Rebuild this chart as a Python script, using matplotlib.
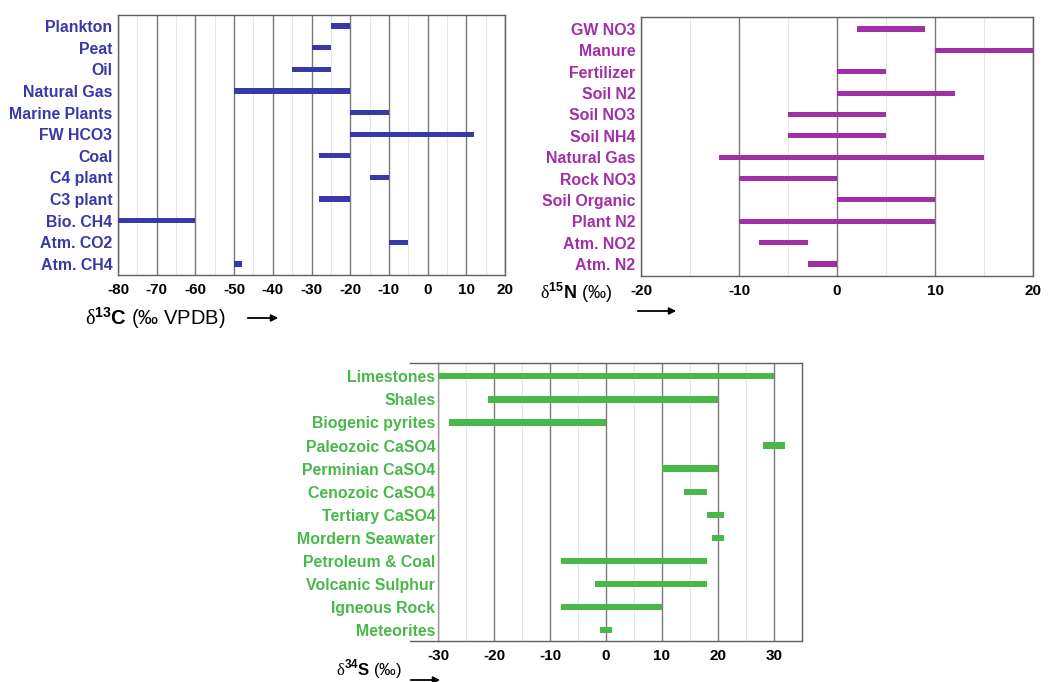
import matplotlib
matplotlib.use("Agg")
import matplotlib.pyplot as plt
from matplotlib.ticker import MultipleLocator

plt.rcParams['font.family'] = ['Liberation Sans', 'DejaVu Sans']
plt.rcParams['axes.unicode_minus'] = False
plt.rcParams['mathtext.fontset'] = 'custom'
plt.rcParams['mathtext.rm'] = 'Liberation Serif'
plt.rcParams['mathtext.sf'] = 'Liberation Sans:bold'
plt.rcParams['mathtext.bf'] = 'Liberation Sans:bold'

# ==========================================
# DADOS (leitura da figura)
# ==========================================

# delta 13C
c_names = ["Plankton", "Peat", "Oil", "Natural Gas", "Marine Plants", "FW HCO3",
           "Coal", "C4 plant", "C3 plant", "Bio. CH4", "Atm. CO2", "Atm. CH4"]
c_min = [-25, -30, -35, -50, -20, -20, -28, -15, -28, -80, -10, -50]
c_max = [-20, -25, -25, -20, -10, 12, -20, -10, -20, -60, -5, -48]

# delta 15N
n_names = ["GW NO3", "Manure", "Fertilizer", "Soil N2", "Soil NO3", "Soil NH4",
           "Natural Gas", "Rock NO3", "Soil Organic", "Plant N2", "Atm. NO2", "Atm. N2"]
n_min = [2, 10, 0, 0, -5, -5, -12, -10, 0, -10, -8, -3]
n_max = [9, 20, 5, 12, 5, 5, 15, 0, 10, 10, -3, 0]

# delta 34S
s_names = ["Limestones", "Shales", "Biogenic pyrites", "Paleozoic CaSO4",
           "Perminian CaSO4", "Cenozoic CaSO4", "Tertiary CaSO4", "Mordern Seawater",
           "Petroleum & Coal", "Volcanic Sulphur", "Igneous Rock", "Meteorites"]
s_min = [-30, -21, -28, 28, 10, 14, 18, 19, -8, -2, -8, -1]
s_max = [30, 20, 0, 32, 20, 18, 21, 21, 18, 18, 10, 1]

BLUE = "#3838a8"
PURPLE = "#a22ea8"
GREEN = "#48b848"
GRID = "#787878"


def painel(ax, names, lo, hi, cor, xlim, ylim, h, pad=4):
    y = list(range(len(names)))
    largura = [b - a for a, b in zip(lo, hi)]
    ax.barh(y, largura, left=lo, height=h, color=cor, linewidth=0, zorder=3)
    ax.set_xlim(*xlim)
    ax.set_ylim(*ylim)
    ax.set_yticks(y)
    ax.set_yticklabels(names, color=cor, fontsize=11.4, fontweight='bold')
    ax.xaxis.set_major_locator(MultipleLocator(10))
    ax.xaxis.set_minor_locator(MultipleLocator(5))
    ax.grid(axis='x', which='major', color=GRID, linewidth=1.0, zorder=1)
    ax.grid(axis='x', which='minor', color="#e6e6e6", linewidth=0.8, zorder=0)
    ax.tick_params(which='both', length=0)
    ax.tick_params(axis='y', pad=pad)
    ax.tick_params(axis='x', pad=6, labelsize=11)
    for lab in ax.get_xticklabels():
        lab.set_fontweight('bold')
    for s in ax.spines.values():
        s.set_color("#606060")
        s.set_linewidth(1.0)


fig = plt.figure(figsize=(10.52, 6.82), dpi=100)

# Painel carbono
ax1 = fig.add_axes([118 / 1052, 1 - 275 / 682, 387 / 1052, 260 / 682])
painel(ax1, c_names, c_min, c_max, BLUE, (-80, 20), (11.51, -0.51), 0.24)
ax1.set_xticks(range(-80, 21, 10))

# Painel nitrogenio
ax2 = fig.add_axes([641 / 1052, 1 - 276 / 682, 392 / 1052, 259 / 682])
painel(ax2, n_names, n_min, n_max, PURPLE, (-20, 20), (11.56, -0.56), 0.24)
ax2.set_xticks(range(-20, 21, 10))

# Painel enxofre
ax3 = fig.add_axes([438 / 1052, 1 - 641 / 682, 364 / 1052, 278 / 682])
painel(ax3, s_names, s_min, s_max, GREEN, (-30, 35), (11.48, -0.58), 0.27, pad=2)
ax3.set_xticks(range(-30, 31, 10))
ax3.spines['left'].set_color("#9a9a9a")
for yy in ax3.get_ylim():
    ax3.axhline(yy, xmin=-0.077, xmax=0, color="#606060", lw=1.0, clip_on=False)

# Rotulos dos eixos
fig.text(85, 364, r"$\mathrm{\delta}^{\mathsf{13}}\mathbf{C}$ (‰ VPDB)",
         fontsize=14.5, va='center', ha='left', transform=None)
fig.text(540, 389, r"$\mathrm{\delta}^{\mathsf{15}}\mathbf{N}$ (‰)",
         fontsize=13, va='center', ha='left', transform=None)
fig.text(336, 13, r"$\mathrm{\delta}^{\mathsf{34}}\mathbf{S}$ (‰)",
         fontsize=12, va='center', ha='left', transform=None)

# Setas
for x0, x1, yy in [(245, 281, 364), (635, 679, 371), (408, 443, 2)]:
    fig.add_artist(plt.Annotation("", xy=(x1, yy), xytext=(x0, yy),
                                  xycoords='figure pixels',
                                  textcoords='figure pixels',
                                  arrowprops=dict(arrowstyle='-|>', color='black',
                                                  lw=1.3, mutation_scale=10)))

fig.savefig("out.png", dpi=100)
